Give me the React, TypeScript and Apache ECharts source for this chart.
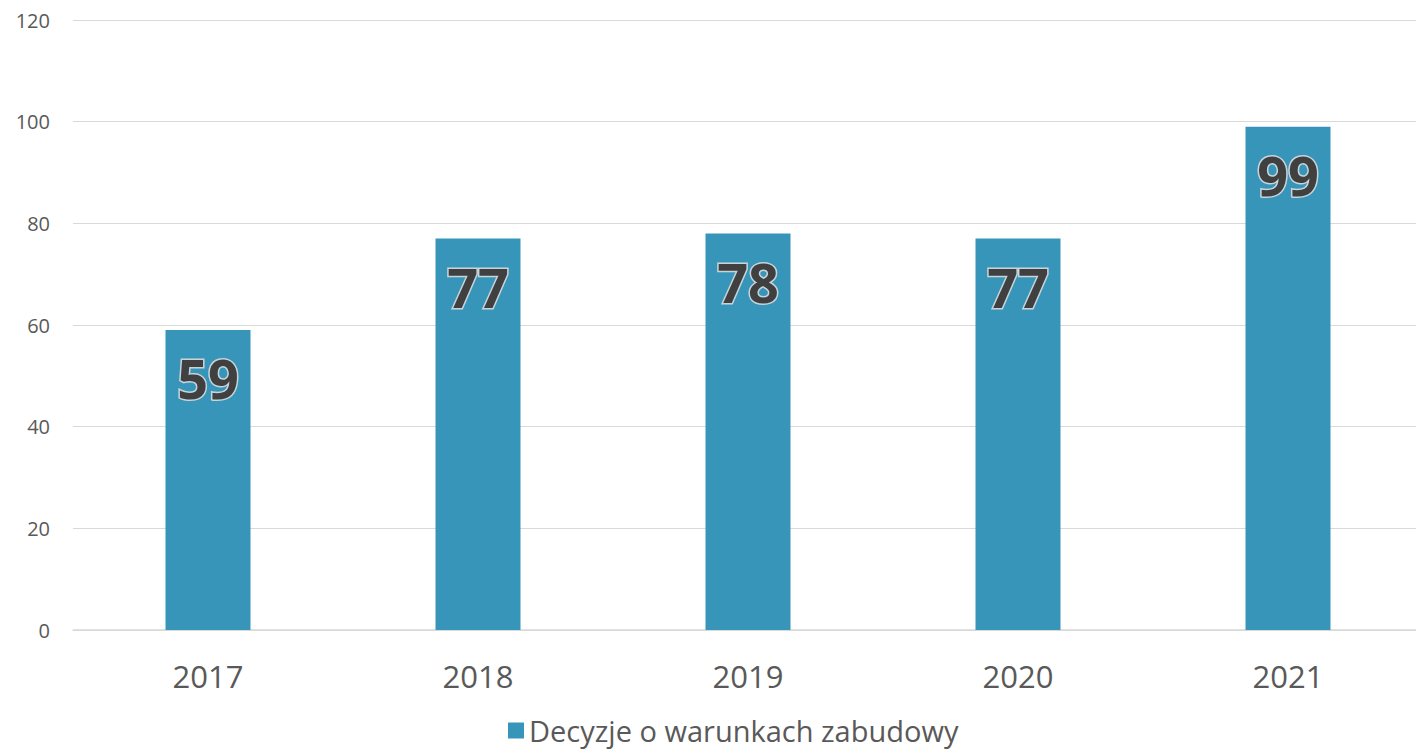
import React, { useEffect, useRef } from "react";
import * as echarts from "echarts";

const categories = ["2017", "2018", "2019", "2020", "2021"];
const values = [59, 77, 78, 77, 99];
const seriesName = "Decyzje o warunkach zabudowy";
const yTicks = { min: 0, max: 120, interval: 20 };

export default function App() {
  const ref = useRef<HTMLDivElement>(null);
  useEffect(() => {
    if (!ref.current) return;
    const chart = echarts.init(ref.current, null, { renderer: "svg" });
    chart.setOption({
      animation: false,
      textStyle: { fontFamily: "'Open Sans', sans-serif" },
      grid: { left: 73, top: 20, height: 610, width: 1350, containLabel: false },
      legend: {
        data: [seriesName],
        top: 716,
        left: 508,
        padding: 0,
        itemWidth: 16,
        itemHeight: 16,
        itemGap: 10,
        icon: "rect",
        textStyle: { fontSize: 29, color: "#595959", fontFamily: "'Open Sans', sans-serif" },
      },
      xAxis: {
        type: "category",
        data: categories,
        axisLine: { show: true, lineStyle: { color: "#d9d9d9", width: 1.5 } },
        axisTick: { show: false },
        axisLabel: { fontSize: 31, color: "#595959", margin: 30 },
      },
      yAxis: {
        type: "value",
        min: yTicks.min,
        max: yTicks.max,
        interval: yTicks.interval,
        axisLine: { show: false },
        axisTick: { show: false },
        axisLabel: { fontSize: 20, color: "#595959", margin: 23 },
        splitLine: { lineStyle: { color: "#d9d9d9", width: 1 } },
      },
      series: [
        {
          name: seriesName,
          type: "bar",
          data: values,
          barWidth: 85,
          itemStyle: { color: "#3795BA" },
          label: {
            show: true,
            position: "insideTop",
            distance: 21,
            fontSize: 54,
            fontWeight: "bold",
            color: "#404040",
            textBorderColor: "#c8d4da",
            textBorderWidth: 3,
            fontFamily: "'Open Sans', sans-serif",
          },
        },
      ],
    });
    return () => chart.dispose();
  }, []);
  return (
    <div style={{ position: "fixed", left: 0, top: 0, width: 1416, height: 753, overflow: "hidden", background: "#fff" }}>
      <div ref={ref} style={{ width: 1430, height: 753 }} />
    </div>
  );
}
